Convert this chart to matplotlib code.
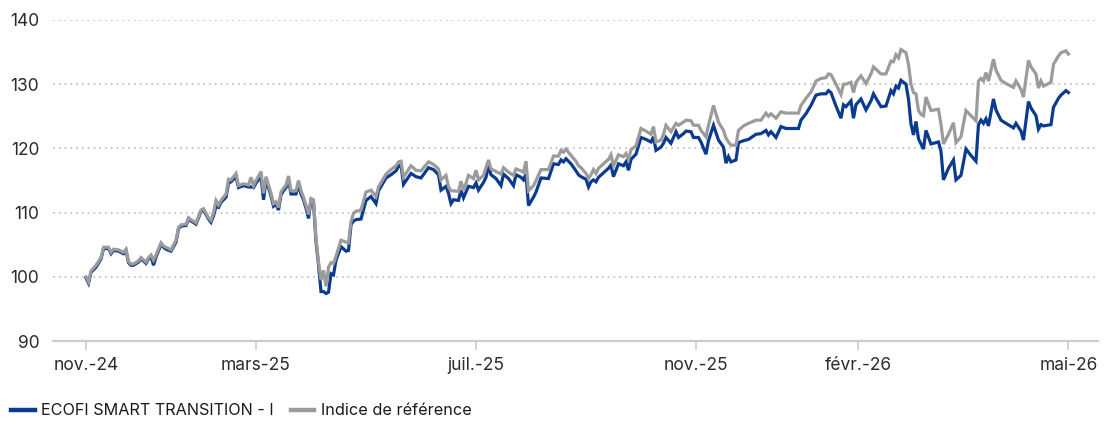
import matplotlib.pyplot as plt
from matplotlib.lines import Line2D

# Trading session number (0 = first valuation) and base-100 values
session = [
    0, 1, 2, 4, 6, 7, 9, 10, 11, 13, 15, 16, 17, 18, 19, 21, 22, 24, 25, 26,
    27, 28, 30, 31, 32, 34, 36, 37, 38, 40, 41, 42, 44, 46, 47, 49, 50, 51, 52, 53,
    54, 56, 57, 58, 59, 60, 61, 63, 65, 66, 67, 68, 70, 71, 72, 73, 74, 75, 76, 77,
    78, 79, 80, 81, 82, 84, 85, 86, 87, 88, 89, 90, 91, 92, 93, 94, 95, 96, 97, 98,
    99, 100, 102, 104, 105, 106, 107, 108, 110, 112, 114, 116, 117, 120, 122, 124, 125, 126, 127, 130,
    132, 134, 137, 139, 141, 142, 144, 145, 146, 147, 149, 150, 151, 153, 155, 156, 157, 159, 160, 161,
    162, 164, 166, 167, 169, 171, 172, 174, 175, 176, 177, 179, 180, 182, 185, 187, 189, 190, 191, 192,
    194, 196, 197, 198, 200, 201, 202, 203, 204, 205, 207, 209, 210, 211, 213, 215, 216, 217, 218, 220,
    222, 224, 226, 227, 228, 230, 231, 232, 234, 236, 237, 239, 240, 242, 243, 245, 246, 248, 249, 251,
    253, 255, 256, 257, 258, 260, 261, 263, 265, 268, 270, 272, 273, 274, 276, 278, 280, 283, 285, 286,
    288, 290, 291, 292, 294, 296, 297, 298, 300, 302, 303, 304, 306, 307, 308, 310, 312, 314, 315, 318,
    320, 322, 323, 324, 325, 326, 328, 329, 330, 331, 332, 333, 334, 335, 336, 338, 341, 342, 343, 345,
    347, 348, 350, 352, 354, 356, 357, 358, 359, 360, 361, 363, 364, 366, 368, 371, 372, 374, 375, 377,
    378, 380, 381, 382, 383, 386, 387, 389, 390, 392, 393,
]

fund = [
    99.8, 99.0, 100.7, 101.5, 102.8, 104.4, 104.4, 103.6, 104.1, 104.0, 103.6, 104.1, 102.2, 101.8, 101.8, 102.3, 102.8, 102.1, 102.8, 103.2,
    101.8, 103.1, 105.0, 104.6, 104.3, 104.0, 105.4, 107.5, 107.9, 108.0, 109.0, 108.7, 108.2, 110.2, 110.4, 109.0, 108.5, 109.5, 111.0, 110.8,
    111.6, 112.4, 114.6, 114.8, 115.2, 115.6, 113.9, 114.2, 114.0, 114.0, 113.9, 114.6, 115.6, 112.0, 115.0, 113.9, 112.6, 111.0, 111.3, 110.4,
    112.8, 113.4, 113.9, 115.1, 112.9, 112.9, 114.3, 112.9, 112.0, 110.7, 109.1, 111.9, 111.6, 105.5, 101.9, 97.7, 97.7, 97.4, 97.6, 100.5,
    100.3, 102.6, 104.7, 104.0, 104.1, 108.1, 108.7, 108.9, 109.0, 111.9, 112.5, 111.4, 113.4, 115.4, 115.9, 116.5, 117.2, 117.5, 114.4, 116.1,
    115.6, 115.4, 117.0, 116.7, 115.9, 113.5, 114.1, 113.0, 111.4, 112.0, 111.9, 113.5, 112.3, 114.1, 113.9, 114.6, 113.5, 114.7, 115.5, 117.3,
    115.9, 115.3, 114.2, 116.0, 115.3, 114.2, 115.9, 115.5, 115.1, 116.0, 111.1, 112.4, 113.2, 115.4, 115.3, 117.6, 117.5, 118.2, 117.9, 118.4,
    117.6, 116.5, 115.9, 115.6, 115.2, 114.0, 114.8, 115.1, 114.8, 115.5, 116.2, 116.9, 117.4, 115.6, 117.6, 117.3, 117.9, 116.6, 118.3, 119.1,
    121.7, 121.4, 121.0, 121.8, 119.7, 120.2, 120.8, 121.7, 120.8, 122.6, 121.7, 122.3, 122.7, 122.6, 121.7, 121.7, 121.0, 119.1, 121.2, 123.6,
    121.3, 120.2, 117.7, 118.7, 117.9, 118.2, 120.9, 121.2, 121.4, 122.2, 122.3, 122.8, 122.1, 122.6, 121.7, 123.4, 123.1, 123.1, 123.1, 124.4,
    125.4, 126.7, 127.5, 128.3, 128.5, 128.5, 129.0, 128.7, 126.6, 124.7, 126.8, 126.5, 127.4, 124.7, 126.8, 127.7, 126.0, 127.4, 128.5, 126.5,
    126.6, 129.0, 128.5, 129.7, 129.4, 130.6, 130.0, 127.7, 123.8, 122.1, 124.2, 121.5, 120.7, 119.9, 122.8, 120.7, 121.0, 119.6, 115.1, 116.9,
    118.2, 115.1, 115.8, 119.9, 118.9, 118.0, 123.7, 124.4, 123.9, 124.6, 123.5, 127.7, 126.0, 124.4, 123.9, 123.2, 123.9, 122.7, 121.3, 127.3,
    126.3, 125.1, 123.0, 123.7, 123.5, 123.7, 126.4, 127.8, 128.3, 129.0, 128.7,
]

benchmark = [
    100.0, 99.2, 100.9, 101.8, 103.0, 104.6, 104.6, 103.8, 104.3, 104.2, 103.8, 104.3, 102.4, 102.0, 102.0, 102.5, 103.0, 102.3, 103.0, 103.4,
    102.6, 103.4, 105.3, 104.8, 104.6, 104.2, 105.7, 107.7, 108.1, 108.2, 109.2, 108.9, 108.4, 110.4, 110.6, 109.2, 108.8, 110.0, 111.9, 111.2,
    111.9, 112.9, 115.2, 115.1, 115.6, 116.1, 114.2, 114.5, 114.3, 115.5, 114.2, 115.0, 116.4, 113.0, 115.6, 114.3, 113.0, 111.4, 111.7, 110.8,
    113.2, 113.8, 114.3, 115.7, 113.4, 113.4, 115.0, 113.4, 112.4, 111.1, 109.7, 112.2, 112.0, 106.0, 102.3, 99.5, 101.0, 98.5, 101.5, 102.2,
    102.1, 103.2, 105.7, 105.4, 105.3, 108.6, 109.9, 110.2, 110.4, 113.2, 113.5, 112.5, 114.0, 116.0, 116.7, 117.3, 117.9, 118.0, 115.5, 117.3,
    116.6, 116.5, 117.9, 117.5, 116.8, 115.1, 115.8, 114.0, 113.4, 113.4, 113.3, 114.9, 113.4, 115.8, 115.3, 116.6, 115.1, 115.8, 117.0, 118.2,
    116.8, 116.4, 116.0, 117.0, 116.3, 115.8, 116.8, 116.5, 116.3, 118.0, 113.4, 114.2, 115.0, 116.7, 116.7, 118.8, 118.8, 119.7, 119.4, 119.9,
    118.9, 118.0, 117.3, 117.0, 116.1, 115.3, 115.9, 116.7, 116.1, 116.9, 117.6, 118.3, 119.0, 117.3, 119.0, 118.7, 119.2, 118.3, 119.8, 120.4,
    123.1, 122.7, 122.2, 123.4, 121.0, 121.3, 122.2, 123.6, 122.6, 123.9, 123.6, 124.1, 124.4, 124.3, 123.6, 123.6, 122.8, 121.8, 123.6, 126.7,
    124.1, 122.8, 121.6, 121.0, 120.5, 120.5, 122.8, 123.5, 123.9, 124.4, 124.4, 125.5, 125.0, 125.4, 124.7, 125.7, 125.5, 125.5, 125.5, 126.7,
    127.8, 128.8, 129.6, 130.5, 130.9, 131.0, 131.6, 131.5, 130.0, 128.4, 130.0, 130.0, 130.3, 128.7, 130.3, 131.3, 130.1, 131.6, 132.7, 131.6,
    131.6, 133.6, 133.5, 134.6, 134.1, 135.4, 134.9, 133.1, 130.0, 128.7, 128.5, 125.9, 125.3, 125.1, 128.0, 125.9, 126.1, 123.8, 120.7, 122.2,
    124.0, 120.9, 121.8, 125.9, 125.1, 124.3, 130.5, 130.9, 130.5, 131.8, 130.5, 133.9, 132.2, 130.6, 130.1, 129.5, 130.5, 129.2, 128.0, 133.7,
    132.7, 131.6, 129.4, 130.5, 129.7, 130.3, 133.1, 134.4, 134.9, 135.2, 134.7,
]

tick_sessions = [0, 68, 156, 244, 309, 393]
tick_labels = ["nov.-24", "mars-25", "juil.-25", "nov.-25", "févr.-26", "mai-26"]
y_ticks = [90, 100, 110, 120, 130, 140]

series_names = ["ECOFI SMART TRANSITION - I", "Indice de référence"]
FUND_COLOR = "#0b3b8f"
BENCH_COLOR = "#9b9b9b"
TEXT_COLOR = "#2b2b2b"
GRID_COLOR = "#c4c4c4"

plt.rcParams["font.family"] = ["Inter", "DejaVu Sans"]

fig = plt.figure(figsize=(11.14, 4.21), dpi=100)
ax = fig.add_axes([0.0476, 0.19, 0.9380, 0.7625])

ax.plot(session, fund, color=FUND_COLOR, lw=2.3, solid_joinstyle="miter", zorder=3)
ax.plot(session, benchmark, color=BENCH_COLOR, lw=2.3, solid_joinstyle="miter", zorder=4)

ax.set_xlim(-13.2, 404.8)
ax.set_ylim(90, 140)
ax.set_xticks(tick_sessions)
ax.set_xticklabels(tick_labels)
ax.set_yticks(y_ticks)

for side in ["top", "right", "left"]:
    ax.spines[side].set_visible(False)
ax.spines["bottom"].set_color("#cccccc")
ax.spines["bottom"].set_linewidth(1.6)
ax.spines["bottom"].set_zorder(2)

ax.tick_params(axis="x", length=6.5, width=1.2, color="#cccccc", pad=5,
               labelsize=12.5, labelcolor=TEXT_COLOR)
ax.tick_params(axis="y", length=0, pad=10, labelsize=12.5, labelcolor=TEXT_COLOR)

# dotted horizontal guides, the 90 line is covered by the axis
for y in y_ticks[1:]:
    ax.axhline(y, color=GRID_COLOR, lw=1.3, ls=(0, (1, 2.2)), zorder=1)

handles = [Line2D([], [], color=FUND_COLOR, lw=3.2),
           Line2D([], [], color=BENCH_COLOR, lw=3.2)]
fig.legend(handles, series_names, loc="center left", bbox_to_anchor=(0.004, 0.024),
           ncol=2, frameon=False, fontsize=11.7, labelcolor="#1a1a1a",
           handlelength=1.45, handletextpad=0.4, columnspacing=1.05,
           borderaxespad=0, borderpad=0.4)

fig.savefig("out.png", dpi=100)
